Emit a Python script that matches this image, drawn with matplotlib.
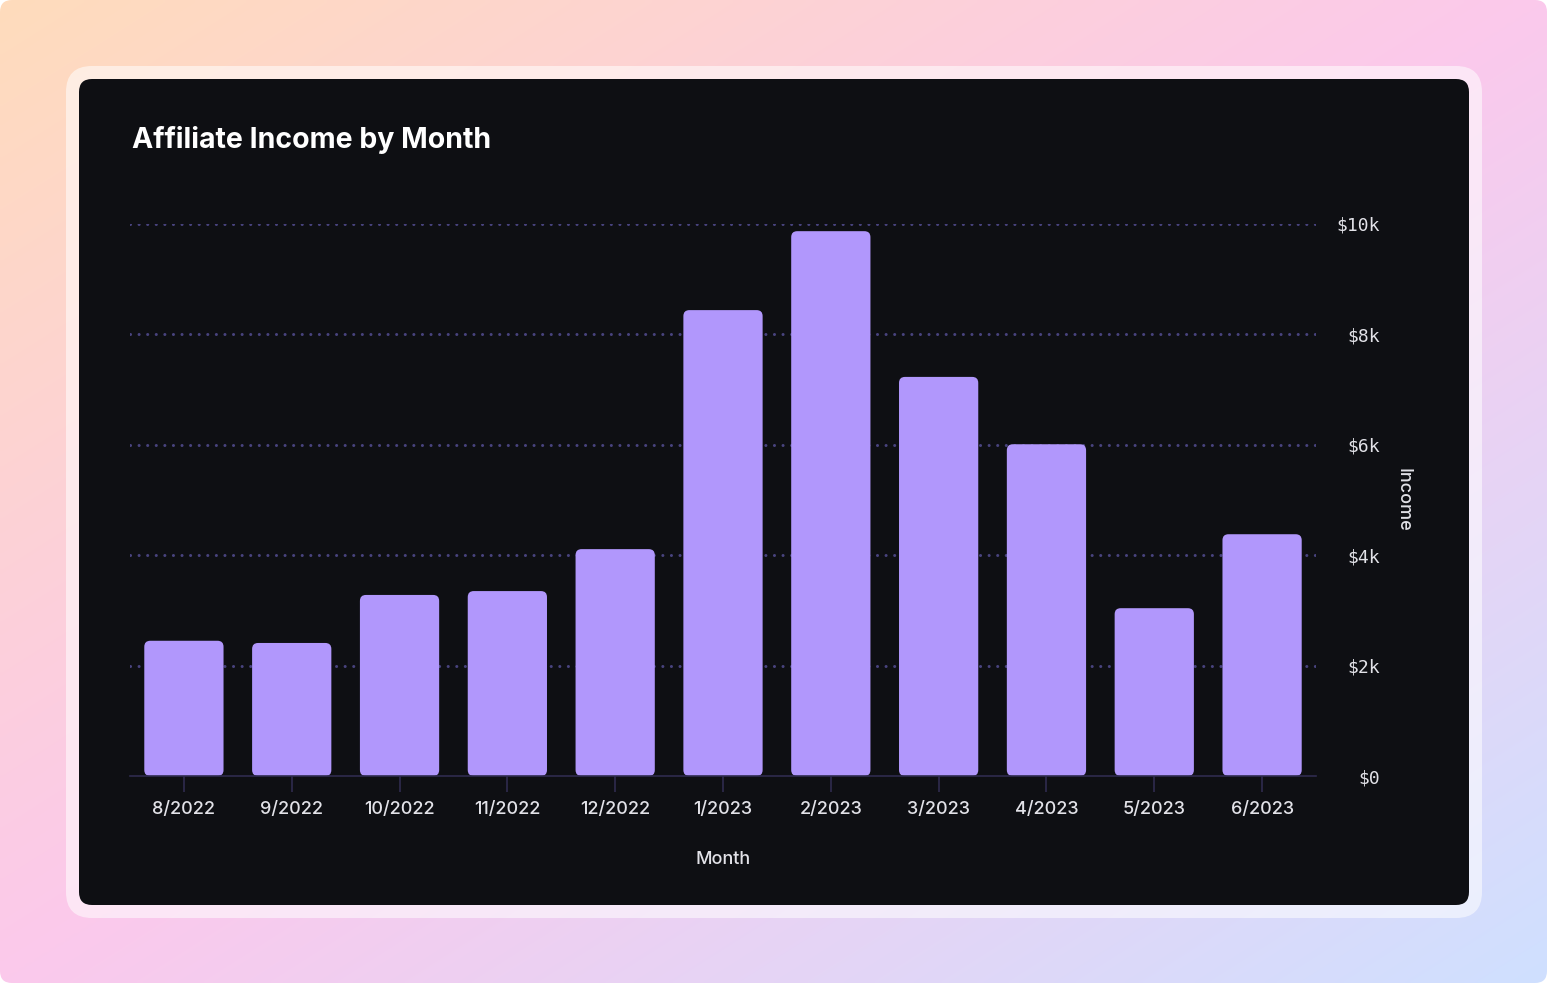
import numpy as np
import matplotlib
matplotlib.use("Agg")
import matplotlib.pyplot as plt
from matplotlib.patches import FancyBboxPatch
from matplotlib.colors import to_rgb
from matplotlib.ticker import FuncFormatter

# data
months = ['8/2022', '9/2022', '10/2022', '11/2022', '12/2022', '1/2023',
          '2/2023', '3/2023', '4/2023', '5/2023', '6/2023']
income = [2450, 2410, 3280, 3350, 4110, 8440, 9870, 7230, 6010, 3040, 4380]
yticks = [0, 2000, 4000, 6000, 8000, 10000]

W, H = 1548, 984
fig = plt.figure(figsize=(W / 100, H / 100), dpi=100)
fig.patch.set_facecolor('white')

# background gradient, frame and card (pixel coordinates)
bg = fig.add_axes([0, 0, 1, 1], zorder=-10)
bg.set_xlim(0, W)
bg.set_ylim(H, 0)
bg.axis('off')

c0, c1, c2 = np.array(to_rgb('#FFDCBC')), np.array(to_rgb('#FBC9EC')), np.array(to_rgb('#CFE0FF'))
xx, yy = np.meshgrid(np.linspace(0, 1, 300), np.linspace(0, 1, 200))
t = (xx + yy) / 2
t1 = np.clip(t * 2, 0, 1)[..., None]
t2 = np.clip(t * 2 - 1, 0, 1)[..., None]
img = np.where(t[..., None] < 0.5, c0 + (c1 - c0) * t1, c1 + (c2 - c1) * t2)
im = bg.imshow(img, extent=[0, W, H, 0], aspect='auto', interpolation='bilinear')
outer = FancyBboxPatch((0, 0), W - 1, H - 1, boxstyle='round,pad=0,rounding_size=12',
                       fc='none', ec='none')
bg.add_patch(outer)
im.set_clip_path(outer)

bg.add_patch(FancyBboxPatch((66, 66), 1416, 852, boxstyle='round,pad=0,rounding_size=26',
                            fc='white', ec='none', alpha=0.55))
bg.add_patch(FancyBboxPatch((79, 79), 1390, 826, boxstyle='round,pad=0,rounding_size=13',
                            fc='#0E0F13', ec='none'))

fig.text(132 / W, 1 - 140 / H, 'Affiliate Income by Month', fontsize=20.5, fontweight='bold',
         family='Inter', color='white', ha='left', va='center')

# main chart
ax = fig.add_axes([130 / W, 1 - 776 / H, 1186 / W, 552 / H])
ax.set_facecolor('none')
x = np.arange(len(months))
ax.set_xlim(-0.5, len(months) - 0.5)
ax.set_ylim(0, 10000)

bars = ax.bar(x, income, width=0.735, color='#B197FC')
px_x = 1186 / len(months)
px_y = 552 / 10000
r = 6
for b in bars:
    bx, by = b.get_xy()
    p = FancyBboxPatch((bx, by), b.get_width(), b.get_height(),
                       boxstyle='round,pad=0,rounding_size=%f' % (r / px_x),
                       mutation_aspect=px_x / px_y, fc='#B197FC', ec='none', zorder=3)
    b.remove()
    ax.add_patch(p)

for s in ['top', 'left', 'right']:
    ax.spines[s].set_visible(False)
ax.spines['bottom'].set_color('#2F2B4F')
ax.spines['bottom'].set_linewidth(1.2)
ax.spines['bottom'].set_zorder(4)

ax.set_yticks(yticks)
ax.yaxis.set_major_formatter(FuncFormatter(lambda v, p: '$0' if v == 0 else '$%dk' % (v / 1000)))
ax.yaxis.tick_right()
ax.tick_params(axis='y', length=0, pad=46, labelsize=13, labelcolor='#E2E2E8')
for lab in ax.get_yticklabels():
    lab.set_family('DejaVu Sans Mono')
    lab.set_horizontalalignment('right')

ax.set_xticks(x)
ax.set_xticklabels(months, family='Inter', fontweight='medium')
ax.tick_params(axis='x', length=11.5, width=1.2, color='#2F2B4F', pad=6.5,
               labelsize=13, labelcolor='#E2E2E8')

ax.set_axisbelow(True)
ax.yaxis.grid(True, color='#48437E', linestyle=(0, (0.01, 2.8)), linewidth=2.2,
              dash_capstyle='round')
ax.get_ygridlines()[0].set_visible(False)

ax.set_xlabel('Month', family='Inter', fontsize=13, fontweight='medium', color='#E2E2E8',
              va='center')
ax.xaxis.set_label_coords(0.5, -(859 - 776) / 552)
ax.yaxis.set_label_position('right')
ax.set_ylabel('Income', family='Inter', fontsize=13, fontweight='medium', color='#E2E2E8',
              rotation=270, va='center', ha='center')
ax.yaxis.set_label_coords((1403 - 130) / 1186, 0.5)

fig.savefig('out.png', dpi=100)
